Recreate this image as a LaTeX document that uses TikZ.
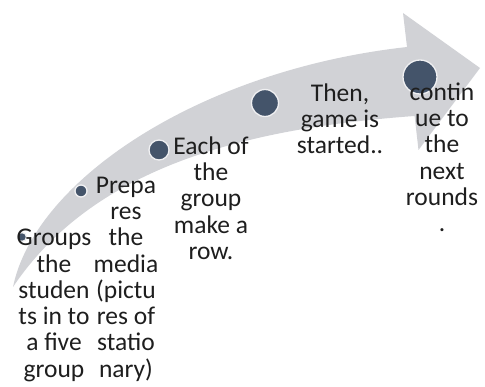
\documentclass[tikz,border=0pt]{standalone}
\usepackage{fontspec}
\setmainfont{Carlito}
\definecolor{swoosh}{RGB}{209,210,214}
\definecolor{dotfill}{RGB}{68,84,106}
\definecolor{dotline}{RGB}{240,240,242}
\definecolor{txt}{RGB}{30,30,30}
\begin{document}
\begin{tikzpicture}[x=1pt,y=-1pt,
  stepdot/.style={circle,fill=dotfill,draw=dotline,line width=1.3pt,inner sep=0pt},
  steptext/.style={anchor=north,inner sep=0pt,align=center,text=txt,
    font=\fontsize{25.5}{26.3}\selectfont}]
\useasboundingbox (0,0) rectangle (485,387);
% swoosh arrow
\fill[swoosh] (13,287) .. controls (35,180) and (200,70) .. (407,47)
  -- (403,13) -- (480,68) -- (418.5,150) -- (414.6,116)
  .. controls (250,128) and (95,165) .. (13,287) -- cycle;
% dots
\node[stepdot,minimum size=9pt]  (d1) at (22,237) {};
\node[stepdot,minimum size=12pt] (d2) at (81,191) {};
\node[stepdot,minimum size=20pt] (d3) at (159,150) {};
\node[stepdot,minimum size=27pt] (d4) at (265,103) {};
\node[stepdot,minimum size=34pt] (d5) at (420,77) {};
% texts
\node[steptext] (t1) at (54,225.5) {\rule{0pt}{20pt}Groups\\the\\studen\\ts in to\\a five\\group};
\node[steptext] (t2) at (126,173) {\rule{0pt}{20pt}Prepa\\res\\the\\media\\(pictu\\res of\\statio\\nary)};
\node[steptext] (t3) at (211,134) {\rule{0pt}{20pt}Each of\\the\\group\\make a\\row.};
\node[steptext] (t4) at (340,81) {\rule{0pt}{20pt}Then,\\game is\\started..};
\node[steptext] (t5) at (442,80) {\rule{0pt}{20pt}contin\\ue to\\the\\next\\rounds\\.};
\end{tikzpicture}
\end{document}
